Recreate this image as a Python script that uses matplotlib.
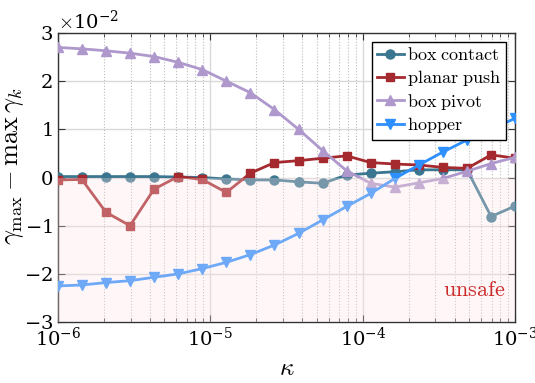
import numpy as np
import matplotlib
matplotlib.use("Agg")
import matplotlib.pyplot as plt
from matplotlib.ticker import ScalarFormatter

plt.rcParams['font.family'] = 'serif'
plt.rcParams['mathtext.fontset'] = 'cm'
plt.rcParams['axes.formatter.use_mathtext'] = True
plt.rcParams['axes.unicode_minus'] = False

kappa = np.logspace(-6, -3, 20)

# values in units of 1e-2
box_contact = [0.02, 0.02, 0.02, 0.02, 0.02, 0.01, 0.0, -0.03, -0.05, -0.05,
               -0.09, -0.12, 0.05, 0.09, 0.12, 0.16, 0.16, 0.16, -0.81, -0.59]
planar_push = [-0.05, -0.04, -0.72, -1.00, -0.24, 0.02, -0.04, -0.31, 0.09, 0.31,
               0.35, 0.40, 0.45, 0.31, 0.28, 0.26, 0.21, 0.19, 0.47, 0.40]
box_pivot = [2.70, 2.67, 2.63, 2.58, 2.51, 2.39, 2.24, 2.00, 1.76, 1.41,
             1.00, 0.56, 0.14, -0.12, -0.20, -0.11, -0.02, 0.13, 0.29, 0.42]
hopper = [-2.25, -2.23, -2.18, -2.14, -2.07, -2.00, -1.89, -1.76, -1.60, -1.40,
          -1.16, -0.88, -0.60, -0.33, -0.02, 0.26, 0.53, 0.78, 1.00, 1.23]

labels = ['box contact', 'planar push', 'box pivot', 'hopper']
colors = ['#3b7690', '#a52a2f', '#ae98cc', '#2e8fff']
markers = ['o', 's', '^', 'v']
sizes = [6.5, 6, 7.5, 7.5]
series = [box_contact, planar_push, box_pivot, hopper]

fig = plt.figure(figsize=(5.35, 3.83), dpi=100)
ax = fig.add_axes([0.108, 0.159, 0.855, 0.755])

for s, lab, c, m, ms in zip(series, labels, colors, markers, sizes):
    ax.plot(kappa, np.array(s) * 1e-2, color=c, marker=m, ms=ms, lw=2.0,
            label=r'$\mathrm{' + lab.replace(' ', r'\ ') + '}$', zorder=3)

ax.set_xscale('log')
ax.set_xlim(1e-6, 1e-3)
ax.set_ylim(-3e-2, 3e-2)
ax.set_yticks(np.arange(-3, 4) * 1e-2)

fmt = ScalarFormatter(useMathText=True)
fmt.set_powerlimits((-1, 1))
ax.yaxis.set_major_formatter(fmt)
ax.yaxis.get_offset_text().set_fontsize(14)

ax.fill_between([1e-6, 1e-3], -3e-2, 0, color=(1.0, 0.9, 0.9), alpha=0.3,
                lw=0, zorder=4)

ax.grid(True, which='major', color='#d9d9d9', lw=1.0, ls='-', zorder=0)
ax.grid(True, which='minor', axis='x', color='#bbbbbb', lw=0.8, ls=':', zorder=0)
ax.set_axisbelow(True)

ax.tick_params(which='both', direction='in', top=True, right=True, labelsize=14,
               color='#333333')
ax.tick_params(which='major', length=5)
ax.tick_params(which='minor', length=3)
for sp in ax.spines.values():
    sp.set_color('#333333')
    sp.set_linewidth(1.0)

ax.text(0.978, 0.11, r'$\mathrm{unsafe}$', transform=ax.transAxes, color='#cc2b2b',
        fontsize=16, ha='right', va='center', zorder=5)

ax.set_xlabel(r'$\kappa$', fontsize=18, labelpad=5)
ax.set_ylabel(r'$\gamma_{\max} - \max\,\gamma_k$', fontsize=19)
ax.yaxis.set_label_coords(-0.07, 0.54)

leg = ax.legend(loc='upper right', fontsize=13, framealpha=1, fancybox=False,
                edgecolor='black', handlelength=1.5, borderpad=0.25,
                labelspacing=0.2, handletextpad=0.2, borderaxespad=0.5)
leg.get_frame().set_linewidth(1.0)
leg.set_zorder(10)

fig.savefig('out.png', dpi=100)
